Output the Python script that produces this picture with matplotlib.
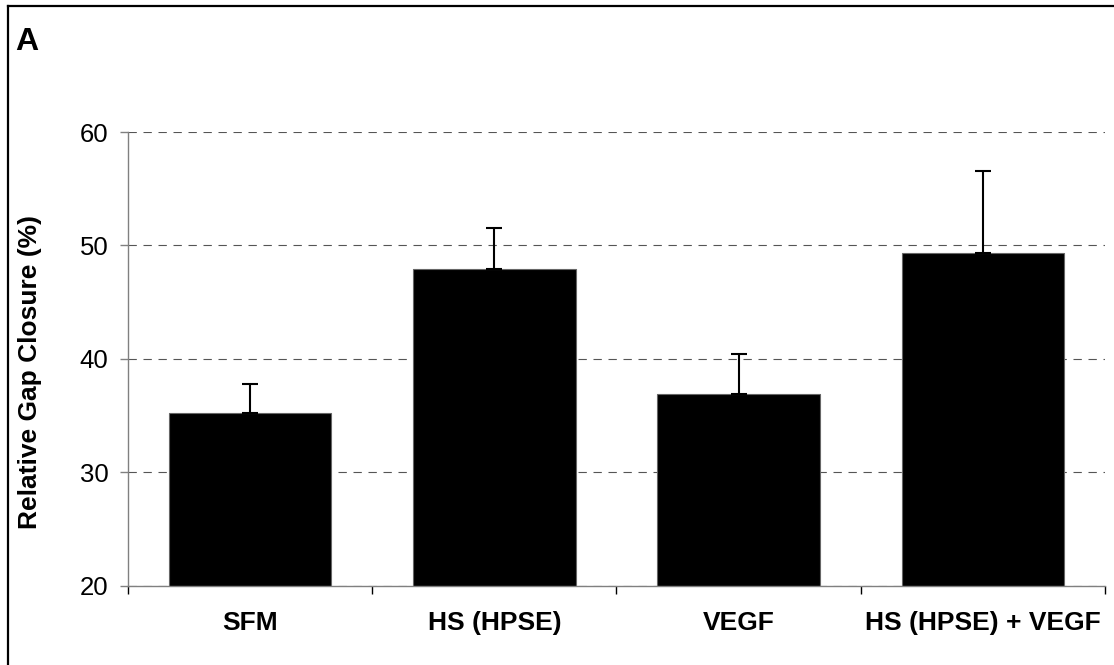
import numpy as np
import matplotlib
matplotlib.use("Agg")
import matplotlib.pyplot as plt
from matplotlib.lines import Line2D

plt.rcParams['font.family'] = ['Liberation Sans', 'DejaVu Sans']

# data
groups = ['SFM', 'HS (HPSE)', 'VEGF', 'HS (HPSE) + VEGF']
gap_closure = [35.2, 47.9, 36.9, 49.3]
sem = [2.6, 3.6, 3.5, 7.3]
y_ticks = [20, 30, 40, 50, 60]

fig = plt.figure(figsize=(11.14, 6.65), dpi=100)
ax = fig.add_axes([0.1149, 0.1192, 0.9919 - 0.1149, 0.8015 - 0.1192])

x = np.arange(len(groups))
ax.bar(x, gap_closure, width=0.666, color='black', edgecolor='#666666',
       linewidth=0.8, zorder=2)
ax.errorbar(x, gap_closure, yerr=[np.zeros(len(sem)), sem], fmt='none',
            ecolor='black', elinewidth=1.5, capsize=5.5, capthick=1.5, zorder=3)

ax.set_ylim(20, 60)
ax.set_xlim(-0.5, len(groups) - 0.5)
ax.set_yticks(y_ticks)
ax.set_yticklabels([str(v) for v in y_ticks], fontsize=18.5)

# boundary ticks, labels on the centres
ax.set_xticks(np.arange(len(groups) + 1) - 0.5)
ax.set_xticklabels([])
ax.set_xticks(x, minor=True)
ax.set_xticklabels(groups, minor=True, fontsize=19, fontweight='bold')
ax.tick_params(axis='x', which='major', length=6, width=1, color='black', direction='out')
ax.tick_params(axis='x', which='minor', length=0, pad=18.5)
ax.tick_params(axis='y', length=6, width=1, color='#808080', pad=8)

ax.yaxis.grid(True, linestyle=(0, (7.5, 6)), linewidth=0.8, color='#555555')
ax.set_axisbelow(True)

for s in ['top', 'right']:
    ax.spines[s].set_visible(False)
for s in ['left', 'bottom']:
    ax.spines[s].set_color('#808080')
    ax.spines[s].set_linewidth(1.0)

fig.text(30 / 1114, 1 - 371.7 / 665, 'Relative Gap Closure (%)', fontsize=19,
         fontweight='bold', rotation=90, ha='center', va='center')

fig.text(0.0135, 0.925, 'A', fontsize=23, fontweight='bold', ha='left', va='baseline')

# figure frame (left and top edges)
fig.add_artist(Line2D([0.0069, 0.0069], [0.0, 0.991], color='black', lw=1.6))
fig.add_artist(Line2D([0.0069, 1.0], [0.991, 0.991], color='black', lw=1.6))

fig.savefig('out.png', dpi=100)
